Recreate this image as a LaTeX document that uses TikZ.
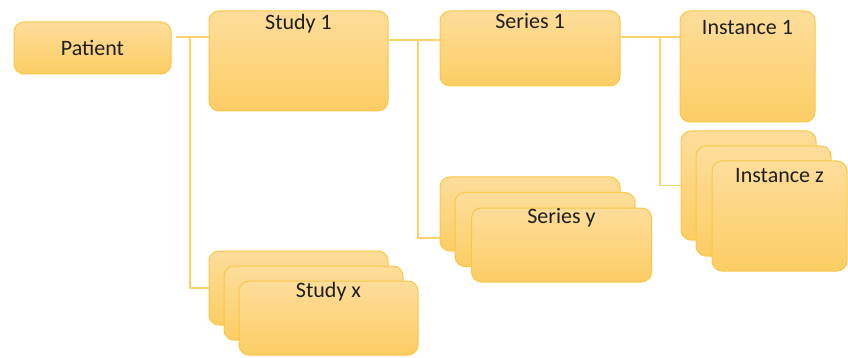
\documentclass[tikz,border=0pt]{standalone}
\usepackage{fontspec}
\setmainfont{Carlito}
\definecolor{boxtop}{HTML}{FDDD9A}
\definecolor{boxbot}{HTML}{FCCD64}
\definecolor{boxline}{HTML}{F9C748}
\definecolor{conn}{HTML}{FDD266}
\definecolor{txt}{HTML}{1E1E1E}
\begin{document}
\begin{tikzpicture}[x=1pt,y=-1pt,
  box/.style={draw=boxline, line width=1pt, rounded corners=10pt, top color=boxtop, bottom color=boxbot, inner sep=0pt},
  conn/.style={draw=conn, line width=1.2pt},
  font=\fontsize{22}{25}\selectfont, text=txt]
\useasboundingbox (0,0) rectangle (848,358);
% Patient
\node[box, minimum width=157pt, minimum height=52pt] (patient) at (92.5,48) {Patient};
% Study 1
\node[box, minimum width=179pt, minimum height=100pt,
  label={[name=study1t, anchor=base, yshift=-19pt]north:Study 1}] (study1) at (298.5,61) {};
% Study x stack
\node[box, minimum width=179pt, minimum height=74pt] (studyxa) at (298.5,288) {};
\node[box, minimum width=179pt, minimum height=74pt] (studyxb) at (313.5,303) {};
\node[box, minimum width=179pt, minimum height=74pt,
  label={[name=studyxt, anchor=base, yshift=-17pt]north:Study x}] (studyxc) at (328.5,318) {};
% Series 1
\node[box, minimum width=180pt, minimum height=75pt,
  label={[name=series1t, anchor=base, yshift=-18pt]north:Series 1}] (series1) at (530,48.5) {};
% Series y stack
\node[box, minimum width=180pt, minimum height=74pt] (seriesya) at (530,214) {};
\node[box, minimum width=180pt, minimum height=74pt] (seriesyb) at (545,229.5) {};
\node[box, minimum width=180pt, minimum height=74pt,
  label={[name=seriesyt, anchor=base, yshift=-16pt]north:Series y}] (seriesyc) at (561.5,245) {};
% Instance 1
\node[box, minimum width=135pt, minimum height=111pt,
  label={[name=inst1t, anchor=base, yshift=-24pt]north:Instance 1}] (inst1) at (747.5,66.5) {};
% Instance z stack
\node[box, minimum width=135pt, minimum height=109pt] (instza) at (748.5,185.5) {};
\node[box, minimum width=135pt, minimum height=110pt] (instzb) at (763.5,201) {};
\node[box, minimum width=135pt, minimum height=110pt,
  label={[name=instzt, anchor=base, yshift=-22pt]north:Instance z}] (instzc) at (779.5,216) {};
% connector junction points
\coordinate (j1) at (190,37);
\coordinate (j2) at (418,40);
\coordinate (j3) at (660,37);
% connectors
\draw[conn] ([xshift=4pt]patient.east |- j1) -- (study1.west |- j1);
\draw[conn] (j1) |- (studyxa.west);
\draw[conn] (study1.east |- j2) -- (series1.west |- j2);
\draw[conn] (j2) |- ([yshift=-24pt]seriesya.west);
\draw[conn] (series1.east |- j3) -- (inst1.west |- j3);
\draw[conn] (j3) |- (instza.west);
\end{tikzpicture}
\end{document}
